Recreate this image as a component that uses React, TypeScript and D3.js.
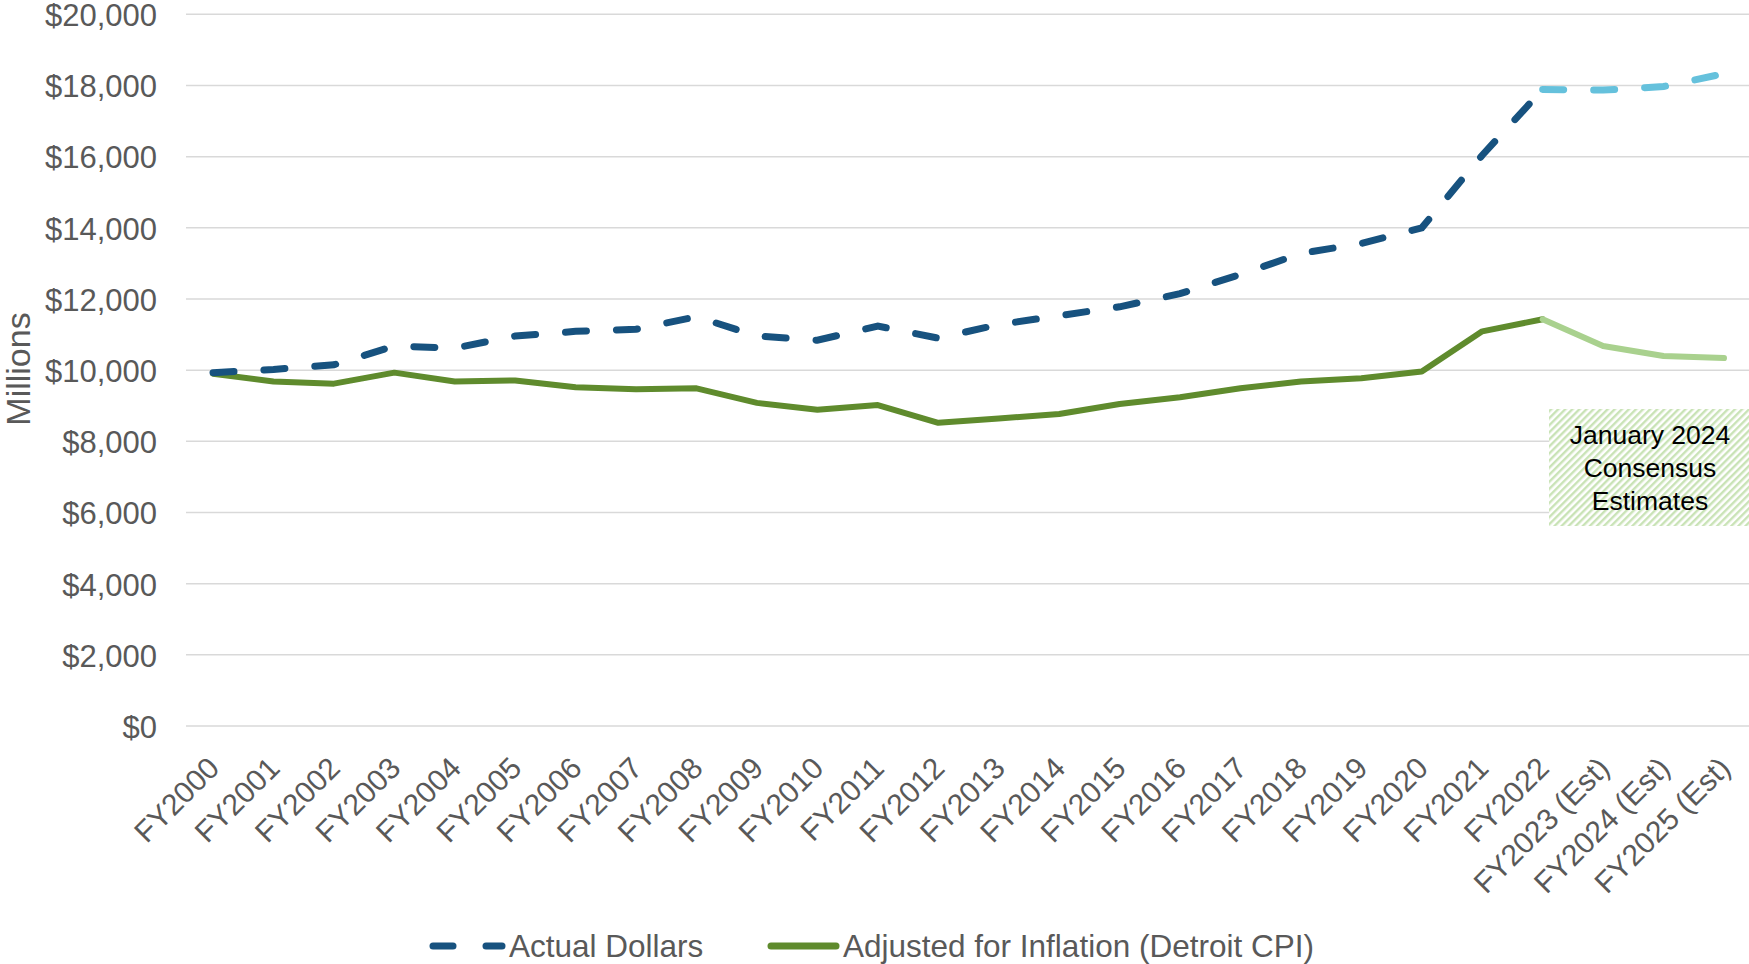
import React from "react";
import * as d3 from "d3";

const years: string[] = [
  "FY2000", "FY2001", "FY2002", "FY2003", "FY2004", "FY2005", "FY2006",
  "FY2007", "FY2008", "FY2009", "FY2010", "FY2011", "FY2012", "FY2013",
  "FY2014", "FY2015", "FY2016", "FY2017", "FY2018", "FY2019", "FY2020",
  "FY2021", "FY2022", "FY2023 (Est)", "FY2024 (Est)", "FY2025 (Est)",
];

const actualDollars: number[] = [
  9930, 10020, 10150, 10680, 10620, 10960, 11090, 11150, 11500, 10960,
  10840, 11240, 10900, 11280, 11530, 11780, 12150, 12690, 13280, 13560,
  14000, 16040, 17890, 17870, 17970, 18330,
];

const adjusted: number[] = [
  9900, 9680, 9620, 9930, 9680, 9710, 9520, 9460, 9490, 9080,
  8890, 9020, 8520, 8640, 8770, 9050, 9240, 9490, 9680, 9770,
  9960, 11090, 11430, 10680, 10400, 10340,
];

const yTicks: number[] = [0, 2000, 4000, 6000, 8000, 10000, 12000, 14000, 16000, 18000, 20000];
const estimateStart = 22; // FY2022, where the estimate segment begins
const noteLines: string[] = ["January 2024", "Consensus", "Estimates"];

const W = 1749;
const H = 964;
const FONT = "'Liberation Sans', Arial, sans-serif";

export default function App() {
  const x = d3.scalePoint<string>().domain(years).range([213, 1724]);
  const y = d3.scaleLinear().domain([0, 20000]).range([726, 14.3]);

  const segPath = (arr: number[], from: number, to: number) =>
    d3
      .line<[string, number]>()
      .x((d) => x(d[0]) as number)
      .y((d) => y(d[1]))(arr.slice(from, to + 1).map((v, i) => [years[from + i], v])) || "";

  const last = years.length - 1;

  return (
    <svg
      width={W}
      height={H}
      style={{ position: "absolute", left: 0, top: 0, background: "#fff" }}
      fontFamily={FONT}
    >
      <defs>
        <pattern id="stripes" width="5" height="5" patternUnits="userSpaceOnUse" patternTransform="rotate(45)">
          <rect width="5" height="5" fill="#ffffff" />
          <rect width="2.4" height="5" fill="#c9e3b6" />
        </pattern>
      </defs>

      {/* gridlines */}
      <g>
        {yTicks.map((t) => (
          <line key={t} x1={186} x2={W} y1={y(t)} y2={y(t)} stroke="#d9d9d9" strokeWidth={1.5} />
        ))}
      </g>

      {/* y tick labels */}
      <g fill="#595959" fontSize={31} textAnchor="end">
        {yTicks.map((t) => (
          <text key={t} x={157} y={y(t) + 1} dy="0.35em">
            {"$" + d3.format(",")(t)}
          </text>
        ))}
      </g>

      <text
        transform={`translate(30,${369}) rotate(-90)`}
        textAnchor="middle"
        fill="#595959"
        fontSize={34}
      >
        Millions
      </text>

      {/* x tick labels */}
      <g fill="#595959" fontSize={30} textAnchor="end">
        {years.map((yr) => (
          <text key={yr} transform={`translate(${(x(yr) as number) + 8},${770}) rotate(-45)`}>
            {yr}
          </text>
        ))}
      </g>

      {/* annotation box */}
      <rect x={1549} y={409} width={200} height={117} fill="url(#stripes)" />
      <g fill="#000" fontSize={26.5} textAnchor="middle">
        {noteLines.map((l, i) => (
          <text key={l} x={1650} y={444 + i * 33}>
            {l}
          </text>
        ))}
      </g>

      {/* lines */}
      <path d={segPath(adjusted, 0, estimateStart)} fill="none" stroke="#5f8b2d" strokeWidth={6} strokeLinejoin="round" strokeLinecap="round" />
      <path d={segPath(adjusted, estimateStart, last)} fill="none" stroke="#a9d18e" strokeWidth={6} strokeLinejoin="round" strokeLinecap="round" />
      <path d={segPath(actualDollars, 0, estimateStart)} fill="none" stroke="#17527f" strokeWidth={7} strokeDasharray="21 30" strokeLinecap="round" />
      <path d={segPath(actualDollars, estimateStart, last)} fill="none" stroke="#65c1dc" strokeWidth={7} strokeDasharray="21 30" strokeLinecap="round" />

      {/* legend */}
      <g>
        <line x1={433} x2={453} y1={946} y2={946} stroke="#17527f" strokeWidth={7} strokeLinecap="round" />
        <line x1={486} x2={502} y1={946} y2={946} stroke="#17527f" strokeWidth={7} strokeLinecap="round" />
        <text x={509} y={946} dy="0.35em" fill="#595959" fontSize={31.5}>Actual Dollars</text>
        <line x1={771} x2={836} y1={946} y2={946} stroke="#5f8b2d" strokeWidth={7} strokeLinecap="round" />
        <text x={843} y={946} dy="0.35em" fill="#595959" fontSize={31.5}>Adjusted for Inflation (Detroit CPI)</text>
      </g>
    </svg>
  );
}
